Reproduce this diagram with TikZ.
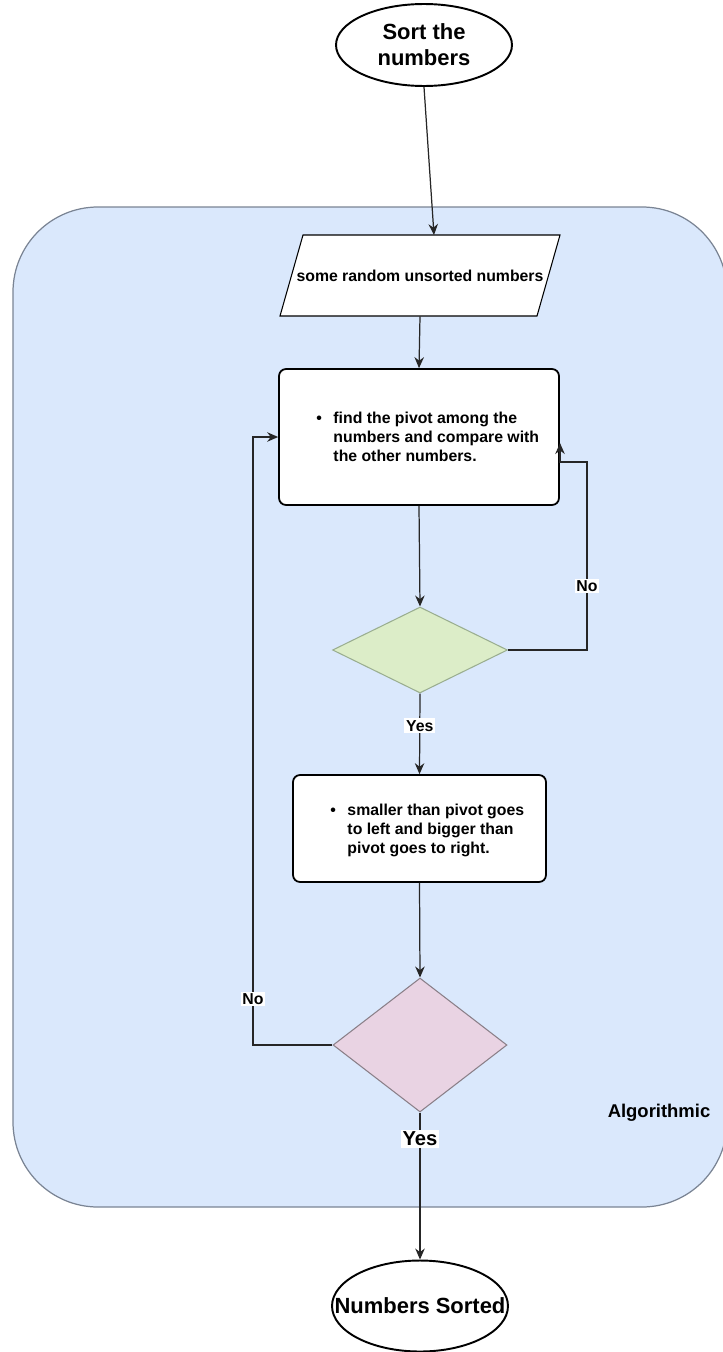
\documentclass[tikz,border=0pt]{standalone}
\usepackage{fontspec}
\setmainfont{Liberation Sans}
\usetikzlibrary{shapes.geometric,arrows.meta}

\definecolor{groupfill}{HTML}{DAE8FC}
\definecolor{groupline}{HTML}{7A8494}
\definecolor{greenfill}{HTML}{DCEDC8}
\definecolor{greenline}{HTML}{9AAE90}
\definecolor{pinkfill}{HTML}{E9D3E3}
\definecolor{pinkline}{HTML}{8A7F88}

\newcommand{\bulletlines}[3]{%
  \begin{tabular}{@{}l@{\hspace{6.6pt}}l@{}}
    \textbullet & #1\\ & #2\\ & #3
  \end{tabular}}

\begin{document}
\begin{tikzpicture}[
  x=0.02cm, y=-0.02cm,
  font=\bfseries\fontsize{9}{10.8}\selectfont,
  flow/.style={draw=black!85, line width=0.7pt, -{Stealth[length=2.2mm,width=1.9mm]}},
  terminal/.style={ellipse, draw, line width=1.1pt, fill=white, inner sep=0pt,
    minimum width=3.52cm, minimum height=1.64cm},
  bigtext/.style={inner sep=0pt, align=center, font=\bfseries\fontsize{12.5}{14.7}\selectfont},
  procbox/.style={draw, line width=1pt, rounded corners=4pt, fill=white, inner sep=0pt},
  decision/.style={diamond, inner sep=0pt, line width=0.6pt},
  edgelabel/.style={fill=white, inner sep=1pt},
  txt/.style={inner sep=0pt, anchor=west}
]
\useasboundingbox (0,0) rectangle (723,1352);

% group container
\draw[groupline, fill=groupfill, line width=0.7pt, rounded corners=1.7cm]
  (13,207) rectangle (727,1207);
\node[font=\bfseries\fontsize{10.5}{12}\selectfont] (grouptitle) at (659,1113) {Algorithmic};

% start / end terminals
\node[terminal] (start) at (424,45) {};
\node[bigtext] (starttxt) at (start) {Sort the\\numbers};
\node[terminal, minimum height=1.82cm] (done) at (420,1306) {};
\node[bigtext] (donetxt) at (done) {Numbers Sorted};

% input parallelogram
\draw[line width=0.6pt, fill=white] (303,235) -- (560,235) -- (537,316) -- (280,316) -- cycle;
\node[minimum width=5.14cm, minimum height=1.62cm, inner sep=0pt] (input) at (420,275.5) {some random unsorted numbers};
\coordinate (inTop) at (434,235);

% first process
\node[procbox, minimum width=5.6cm, minimum height=2.72cm] (find) at (419,437) {};
\node[txt] (findtxt) at (316,439) {\bulletlines{find the pivot among the}{numbers and compare with}{the other numbers.}};

% first decision
\node[decision, draw=greenline, fill=greenfill, minimum width=3.5cm, minimum height=1.72cm] (check1) at (420,650) {};

% second process
\node[procbox, minimum width=5.06cm, minimum height=2.14cm] (split) at (419.5,828.5) {};
\node[txt] (splittxt) at (330,831) {\bulletlines{smaller than pivot goes}{to left and bigger than}{pivot goes to right.}};

% second decision
\node[decision, draw=pinkline, fill=pinkfill, minimum width=3.48cm, minimum height=2.68cm] (check2) at (420,1045) {};

% loop corners
\coordinate (r1) at (587,650);
\coordinate (r2) at (587,462);
\coordinate (r3) at (560,462);
\coordinate (r4) at (560,443);
\coordinate (l1) at (253,1045);
\coordinate (l2) at (253,437);

% connectors
\draw[flow] (start.south) -- (inTop);
\draw[flow] (input.south) -- (find.north);
\draw[flow] (find.south) -- (check1.north);
\draw[flow] (check1.south) -- node[edgelabel, pos=0.4] (yes1) {Yes} (split.north);
\draw[flow] (split.south) -- (check2.north);
\draw[flow] (check2.south) -- node[edgelabel, pos=0.18, font=\bfseries\fontsize{11.5}{13}\selectfont] (yes2) {Yes} (done.north);
\draw[flow] (check1.east) -- (r1) -- node[edgelabel, pos=0.34] (no1) {No} (r2) -- (r3) -- (r4);
\draw[flow] (check2.west) -- (l1) -- node[edgelabel, pos=0.076] (no2) {No} (l2) -- (find.west);

\end{tikzpicture}
\end{document}
